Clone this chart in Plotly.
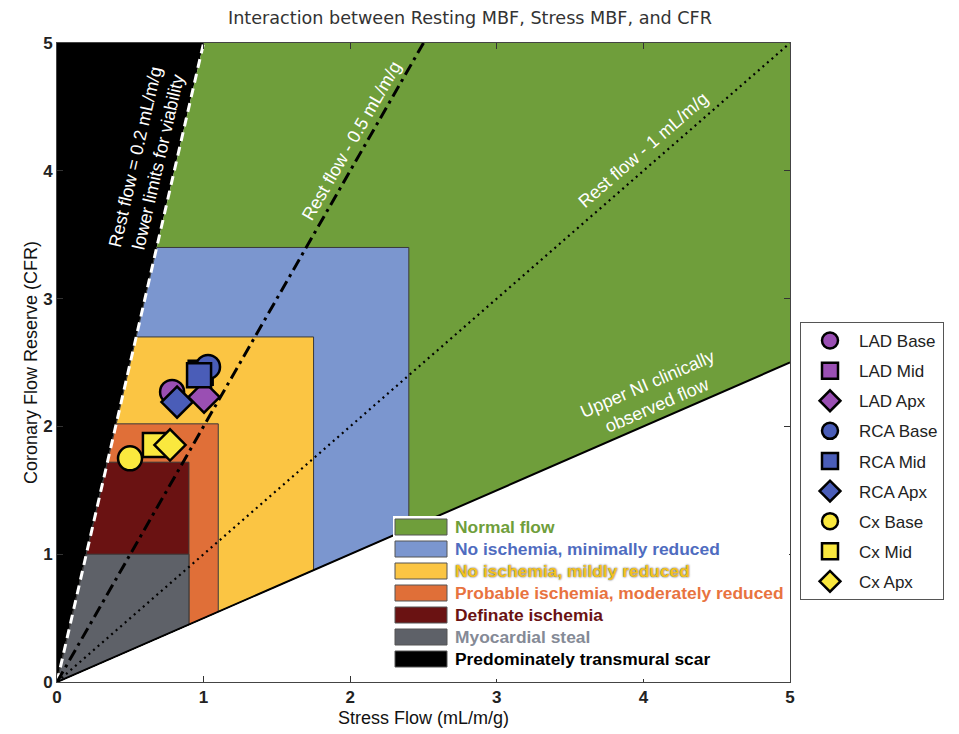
import plotly.graph_objects as go

# ---------------- data ----------------
AX_MAX = 5.0
rest_flow_lines = [0.2, 0.5, 1.0, 2.0]          # mL/m/g, CFR = stress / rest
line_labels = ["Rest flow = 0.2 mL/m/g<br>lower limits for viability",
               "Rest flow - 0.5 mL/m/g",
               "Rest flow - 1 mL/m/g",
               "Upper NI clinically<br>observed flow"]
label_stress = [0.61, 2.01, 4.00, 4.06]
label_cfr = [4.09, 4.23, 4.16, 2.25]
label_angle = [-77, -60, -41, -23.5]

region_names = ["Normal flow",
                "No ischemia, minimally reduced",
                "No ischemia, mildly reduced",
                "Probable ischemia, moderately reduced",
                "Definate ischemia",
                "Myocardial steal",
                "Predominately transmural scar"]
region_max_stress = [5.0, 2.4, 1.75, 1.1, 0.9, 0.9]
region_max_cfr = [5.0, 3.4, 2.7, 2.02, 1.72, 1.0]
region_colors = ["#6F9E3B", "#7B96CF", "#FBC543", "#E06F38", "#6A1212", "#5E6168", "#000000"]
text_colors = ["#6F9E3B", "#4F6CC0", "#F4C21E", "#E8733F", "#6A1212", "#858A96", "#000000"]

segments = ["LAD Base", "LAD Mid", "LAD Apx",
            "RCA Base", "RCA Mid", "RCA Apx",
            "Cx Base", "Cx Mid", "Cx Apx"]
seg_stress = [0.785, 0.98, 1.003, 1.03, 0.969, 0.819, 0.498, 0.668, 0.771]
seg_cfr = [2.27, 2.42, 2.23, 2.465, 2.40, 2.19, 1.75, 1.855, 1.855]
seg_symbols = ["circle", "square", "diamond"] * 3
seg_colors = ["#9A4FB3"] * 3 + ["#4A5DB8"] * 3 + ["#FAE83E"] * 3

# ---------------- layout geometry (screen pixels) ----------------
W, H = 959, 734
BODY = 8                       # default page body margin
SL, SR, ST, SB = 57, 790, 43, 682
PW, PH = SR - SL, SB - ST
ML, MT = SL - BODY, ST - BODY
MR, MB = W - ML - PW, H - MT - PH


def px_x(px):
    return (px - SL) / PW


def px_y(py):
    return (SB - py) / PH


lo_rest, hi_rest = rest_flow_lines[0], rest_flow_lines[-1]

fig = go.Figure()

# predominately transmural scar (left of the 0.2 line)
fig.add_trace(go.Scatter(
    x=[0, AX_MAX * lo_rest, 0, 0], y=[0, AX_MAX, AX_MAX, 0],
    fill="toself", fillcolor=region_colors[-1], mode="lines",
    line=dict(width=0, color=region_colors[-1]), showlegend=False, hoverinfo="skip"))

# nested regions inside the viable wedge
for i, (X, Y) in enumerate(zip(region_max_stress, region_max_cfr)):
    xs = [0, X, X, Y * lo_rest, 0]
    ys = [0, X / hi_rest, Y, Y, 0]
    fig.add_trace(go.Scatter(
        x=xs, y=ys, fill="toself", fillcolor=region_colors[i], mode="lines",
        line=dict(width=1 if i > 0 else 0, color="#3a3a3a"),
        showlegend=False, hoverinfo="skip"))

# rest-flow iso lines
line_styles = [("white", 3, "9px,6px"),
               ("black", 3, "12px,5px,3px,5px"),
               ("black", 2.2, "2px,4px"),
               ("black", 2, "solid")]
for r, (c, w, d) in zip(rest_flow_lines, line_styles):
    xe = min(AX_MAX, AX_MAX * r)
    fig.add_trace(go.Scatter(
        x=[0, xe], y=[0, xe / r], mode="lines",
        line=dict(color=c, width=w, dash=d), showlegend=False, hoverinfo="skip"))

# segment markers
for i, name in enumerate(segments):
    fig.add_trace(go.Scatter(
        x=[seg_stress[i]], y=[seg_cfr[i]], mode="markers", name=name,
        legendgroup=name,
        marker=dict(symbol=seg_symbols[i], size=24, color=seg_colors[i],
                    line=dict(color="black", width=2.5))))

annotations = []
for t, xs, ys, a in zip(line_labels, label_stress, label_cfr, label_angle):
    annotations.append(dict(x=xs, y=ys, xref="x", yref="y", text=t, showarrow=False,
                            textangle=a, align="center",
                            font=dict(family="Liberation Sans, Arial", size=18, color="white")))

# inner region legend (drawn in paper coordinates)
shapes = [dict(type="rect", xref="paper", yref="paper",
               x0=px_x(393), x1=px_x(789), y0=px_y(679), y1=px_y(516),
               fillcolor="white", line=dict(width=0), layer="above")]
for i, name in enumerate(region_names):
    cy = 527 + 22 * i
    shapes.append(dict(type="rect", xref="paper", yref="paper",
                       x0=px_x(395), x1=px_x(447), y0=px_y(cy + 8), y1=px_y(cy - 8),
                       fillcolor=region_colors[i], line=dict(width=1, color="#555"),
                       layer="above"))
    f = dict(family="Liberation Sans, Arial", size=17.4,
             color=text_colors[i], weight="bold")
    if i == 2:
        f["shadow"] = "0px 0px 2px #333"
    annotations.append(dict(x=px_x(453), y=px_y(cy), xref="paper", yref="paper",
                            text=name, showarrow=False, xanchor="left", yanchor="middle",
                            font=f))

axis_common = dict(range=[0, AX_MAX], tickvals=[0, 1, 2, 3, 4, 5], automargin=False,
                   ticks="inside", ticklen=6, tickcolor="#333", tickwidth=1,
                   showline=True, linecolor="#444", linewidth=1, mirror="ticks",
                   showgrid=False, zeroline=False,
                   tickfont=dict(family="Liberation Sans, Arial", size=17, color="#222",
                                 weight="bold"))

fig.update_layout(
    width=W, height=H,
    margin=dict(l=ML, r=MR, t=MT, b=MB, autoexpand=False),
    paper_bgcolor="white", plot_bgcolor="white",
    title=dict(text="Interaction between Resting MBF, Stress MBF, and CFR",
               x=(470 - BODY) / W, xanchor="center", y=1 - (18 - BODY) / H, yanchor="middle",
               font=dict(family="DejaVu Sans", size=17.6, color="#333")),
    xaxis=dict(axis_common, title=dict(text="Stress Flow (mL/m/g)", standoff=4,
                                       font=dict(family="Liberation Sans, Arial", size=18,
                                                 color="#111"))),
    yaxis=dict(axis_common, title=dict(text="Coronary Flow Reserve (CFR)", standoff=0,
                                       font=dict(family="Liberation Sans, Arial", size=18,
                                                 color="#111"))),
    legend=dict(x=px_x(800), y=px_y(322), xanchor="left", yanchor="top",
                bgcolor="white", bordercolor="#555", borderwidth=1,
                tracegroupgap=5, itemwidth=48,
                font=dict(family="Liberation Sans, Arial", size=17, color="#222")),
    annotations=annotations,
    shapes=shapes,
    showlegend=True,
)

fig.write_html("out.html")
